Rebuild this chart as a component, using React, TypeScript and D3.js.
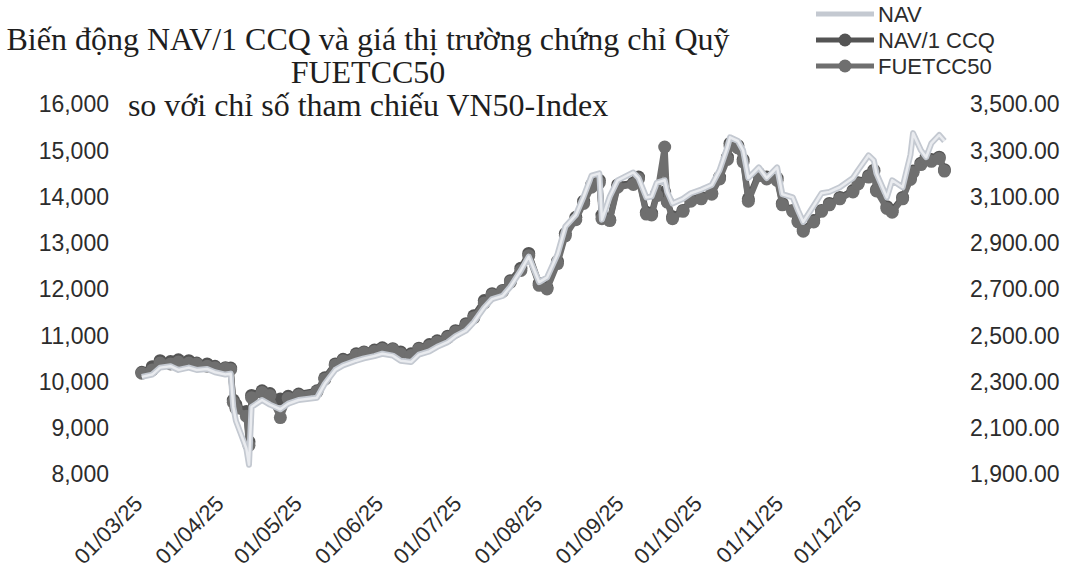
import React, { useEffect, useRef } from 'react';
import * as d3 from 'd3';

// Ngày giao dịch (lấy mẫu từ biểu đồ gốc)
const dates = [
  '2025-02-27', '2025-03-03', '2025-03-06', '2025-03-10', '2025-03-13', '2025-03-17', '2025-03-20', '2025-03-24',
  '2025-03-27', '2025-03-31', '2025-04-02', '2025-04-03', '2025-04-04', '2025-04-08', '2025-04-09', '2025-04-10',
  '2025-04-14', '2025-04-17', '2025-04-21', '2025-04-24', '2025-04-28', '2025-05-05', '2025-05-08', '2025-05-12',
  '2025-05-15', '2025-05-20', '2025-05-23', '2025-05-27', '2025-05-30', '2025-06-03', '2025-06-06', '2025-06-10',
  '2025-06-13', '2025-06-17', '2025-06-20', '2025-06-24', '2025-06-27', '2025-07-01', '2025-07-04', '2025-07-08',
  '2025-07-11', '2025-07-15', '2025-07-18', '2025-07-22', '2025-07-25', '2025-07-29', '2025-08-01', '2025-08-05',
  '2025-08-08', '2025-08-12', '2025-08-15', '2025-08-18', '2025-08-21', '2025-08-22', '2025-08-25', '2025-08-28',
  '2025-09-03', '2025-09-05', '2025-09-08', '2025-09-10', '2025-09-12', '2025-09-15', '2025-09-16', '2025-09-18',
  '2025-09-22', '2025-09-25', '2025-09-29', '2025-10-03', '2025-10-06', '2025-10-09', '2025-10-10', '2025-10-13',
  '2025-10-15', '2025-10-17', '2025-10-21', '2025-10-24', '2025-10-28', '2025-10-30', '2025-11-03', '2025-11-05',
  '2025-11-07', '2025-11-11', '2025-11-14', '2025-11-17', '2025-11-21', '2025-11-26', '2025-11-28', '2025-12-02',
  '2025-12-04', '2025-12-05', '2025-12-09', '2025-12-11', '2025-12-15', '2025-12-18', '2025-12-19', '2025-12-22',
  '2025-12-24', '2025-12-26', '2025-12-29', '2025-12-31',
];

// NAV/1 CCQ (trục trái)
const navPerUnit = [
  10200, 10320, 10450, 10430, 10470, 10450, 10400, 10380, 10330, 10300, 10290, 9600, 9500, 9350, 8700, 9700,
  9800, 9740, 9620, 9680, 9730, 9800, 10080, 10380, 10480, 10600, 10640, 10680, 10730, 10710, 10640, 10600,
  10720, 10800, 10880, 10980, 11100, 11250, 11420, 11750, 11900, 11970, 12180, 12450, 12770, 12120, 12030, 12600,
  13200, 13550, 13900, 14250, 14350, 13600, 13500, 14250, 14290, 14420, 13660, 13640, 14070, 14100, 13900, 13560,
  13700, 13920, 13980, 14070, 14420, 14850, 15150, 15100, 14800, 13950, 14500, 14420, 14400, 13850, 13700, 13480,
  13280, 13480, 13700, 13850, 13980, 14130, 14300, 14450, 14570, 14150, 13780, 13700, 13980, 14400, 14550, 14720,
  14850, 14800, 14850, 14580,
];

// Giá thị trường FUETCC50 (trục trái)
const marketPrice = [
  10180, 10250, 10400, 10380, 10420, 10400, 10380, 10330, 10300, 10280, 10260, 9550, 9420, 9250, 8620, 9650,
  9760, 9700, 9220, 9640, 9700, 9780, 10050, 10350, 10450, 10570, 10620, 10650, 10700, 10690, 10600, 10560,
  10700, 10760, 10850, 10950, 11070, 11220, 11380, 11700, 11870, 11950, 12150, 12400, 12720, 12080, 12000, 12550,
  13150, 13500, 13850, 14200, 14300, 13520, 13480, 14200, 14260, 14380, 13620, 13600, 14020, 15070, 13880, 13520,
  13680, 13900, 13950, 14050, 14380, 14800, 15100, 15050, 14750, 13900, 14450, 14380, 14350, 13820, 13680, 13450,
  13250, 13450, 13680, 13820, 13950, 14100, 14270, 14420, 14540, 14120, 13740, 13660, 13950, 14370, 14520, 14690,
  14820, 14760, 14820, 14550,
];

// NAV - chỉ số tham chiếu (trục phải)
const navIndex = [
  2320, 2330, 2360, 2366, 2350, 2360, 2350, 2354, 2340, 2330, 2334, 2190, 2130, 2010, 1940, 2190,
  2220, 2200, 2180, 2204, 2220, 2230, 2290, 2350, 2370, 2390, 2400, 2410, 2420, 2412, 2390, 2384,
  2416, 2430, 2450, 2470, 2496, 2520, 2556, 2620, 2656, 2670, 2710, 2780, 2840, 2730, 2750, 2850,
  2970, 3020, 3100, 3190, 3200, 3000, 3100, 3170, 3204, 3180, 3096, 3100, 3160, 3170, 3120, 3070,
  3090, 3114, 3130, 3150, 3214, 3314, 3356, 3340, 3300, 3180, 3226, 3180, 3226, 3110, 3096, 3040,
  2990, 3060, 3114, 3120, 3140, 3180, 3214, 3278, 3256, 3200, 3096, 3170, 3140, 3280, 3374, 3300,
  3270, 3330, 3366, 3340,
];

const monthTicks = [
  '2025-03-01', '2025-04-01', '2025-05-01', '2025-06-01', '2025-07-01',
  '2025-08-01', '2025-09-01', '2025-10-01', '2025-11-01', '2025-12-01',
];
const leftTicks = [8000, 9000, 10000, 11000, 12000, 13000, 14000, 15000, 16000];
const rightTicks = [1900, 2100, 2300, 2500, 2700, 2900, 3100, 3300, 3500];

const titleLines = [
  'Biến động NAV/1 CCQ và giá thị trường chứng chỉ Quỹ',
  'FUETCC50',
  'so với chỉ số tham chiếu VN50-Index',
];

const legendItems = [
  { name: 'NAV', color: '#c4c9d1', marker: false },
  { name: 'NAV/1 CCQ', color: '#545454', marker: true },
  { name: 'FUETCC50', color: '#6f6f6f', marker: true },
];

const W = 1070;
const H = 573;
const SANS = 'Liberation Sans, Arial, sans-serif';

const parse = d3.timeParse('%Y-%m-%d');

const NavChart: React.FC = () => {
  const ref = useRef<HTMLDivElement>(null);

  useEffect(() => {
    const container = d3.select(ref.current);
    container.selectAll('*').remove();

    const svg = container.append('svg')
      .attr('width', W)
      .attr('height', H)
      .style('display', 'block')
      .style('background', '#fff');

    const x = d3.scaleTime()
      .domain([parse('2025-03-01')!, parse('2025-12-01')!])
      .range([147, 866]);
    const yLeft = d3.scaleLinear().domain([8000, 16000]).range([474, 104]);
    const yRight = d3.scaleLinear().domain([1900, 3500]).range([474, 104]);

    const days = dates.map(d => parse(d)!);

    // Tiêu đề
    svg.append('g')
      .selectAll('text')
      .data(titleLines)
      .enter()
      .append('text')
      .attr('x', 368)
      .attr('y', (_, i) => 50 + i * 33)
      .attr('text-anchor', 'middle')
      .style('font-family', 'Liberation Serif, Times New Roman, serif')
      .style('font-size', '32px')
      .attr('fill', '#1e1e1e')
      .text(d => d);

    // Trục trái
    svg.append('g')
      .selectAll('text')
      .data(leftTicks)
      .enter()
      .append('text')
      .attr('x', 109)
      .attr('y', d => yLeft(d))
      .attr('dy', '0.36em')
      .attr('text-anchor', 'end')
      .style('font-family', SANS)
      .style('font-size', '23px')
      .attr('fill', '#2c2c2c')
      .text(d => d3.format(',')(d));

    // Trục phải
    svg.append('g')
      .selectAll('text')
      .data(rightTicks)
      .enter()
      .append('text')
      .attr('x', 970)
      .attr('y', d => yRight(d))
      .attr('dy', '0.36em')
      .attr('text-anchor', 'start')
      .style('font-family', SANS)
      .style('font-size', '23px')
      .attr('fill', '#2c2c2c')
      .text(d => d3.format(',.2f')(d));

    // Nhãn ngày, xoay 45 độ
    svg.append('g')
      .selectAll('text')
      .data(monthTicks.map(d => parse(d)!))
      .enter()
      .append('text')
      .attr('transform', d => `translate(${x(d) - 3},505) rotate(-45)`)
      .attr('text-anchor', 'end')
      .style('font-family', SANS)
      .style('font-size', '22px')
      .attr('fill', '#2c2c2c')
      .text(d => d3.timeFormat('%d/%m/%y')(d));

    const lineLeft = d3.line<number>()
      .x((_, i) => x(days[i]))
      .y(d => yLeft(d));
    const lineRight = d3.line<number>()
      .x((_, i) => x(days[i]))
      .y(d => yRight(d));

    const drawMarked = (values: number[], color: string) => {
      const g = svg.append('g');
      g.append('path')
        .attr('d', lineLeft(values))
        .attr('fill', 'none')
        .attr('stroke', color)
        .attr('stroke-width', 6)
        .attr('stroke-linejoin', 'round');
      g.selectAll('circle')
        .data(values)
        .enter()
        .append('circle')
        .attr('cx', (_, i) => x(days[i]))
        .attr('cy', d => yLeft(d))
        .attr('r', 6.5)
        .attr('fill', color);
    };

    drawMarked(navPerUnit, legendItems[1].color);
    drawMarked(marketPrice, legendItems[2].color);

    // NAV (chỉ số) vẽ trên cùng: viền xám nhạt, lõi gần trắng
    svg.append('path')
      .attr('d', lineRight(navIndex))
      .attr('fill', 'none')
      .attr('stroke', legendItems[0].color)
      .attr('stroke-width', 6)
      .attr('stroke-linejoin', 'round');
    svg.append('path')
      .attr('d', lineRight(navIndex))
      .attr('fill', 'none')
      .attr('stroke', '#e9ebef')
      .attr('stroke-width', 2.5)
      .attr('stroke-linejoin', 'round');

    // Chú thích
    const legend = svg.append('g');
    legendItems.forEach((item, i) => {
      const cy = 14 + i * 26;
      legend.append('line')
        .attr('x1', 816)
        .attr('x2', 874)
        .attr('y1', cy)
        .attr('y2', cy)
        .attr('stroke', item.color)
        .attr('stroke-width', 5);
      if (item.marker) {
        legend.append('circle')
          .attr('cx', 845)
          .attr('cy', cy)
          .attr('r', 6.5)
          .attr('fill', item.color);
      }
      legend.append('text')
        .attr('x', 878)
        .attr('y', cy)
        .attr('dy', '0.36em')
        .style('font-family', SANS)
        .style('font-size', '22px')
        .attr('fill', '#2c2c2c')
        .text(item.name);
    });
  }, []);

  return <div ref={ref} style={{ position: 'absolute', left: 0, top: 0 }} />;
};

export default function App() {
  return <NavChart />;
}
